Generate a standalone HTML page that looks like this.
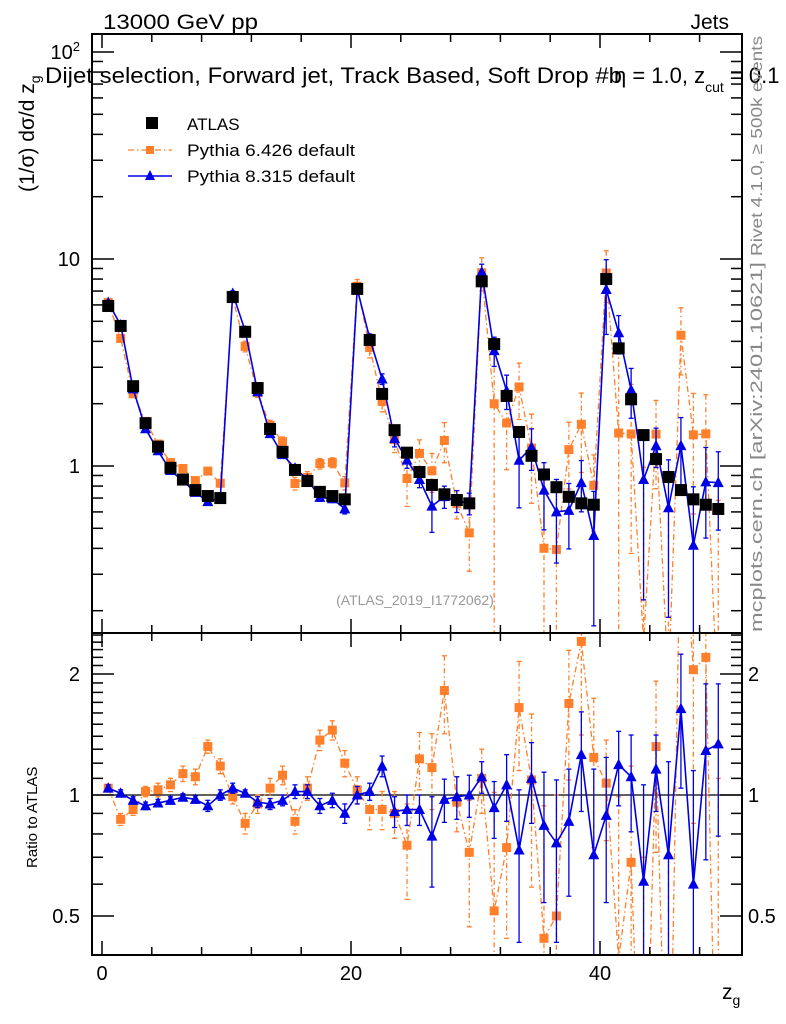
<!DOCTYPE html>
<html><head><meta charset="utf-8">
<style>
html,body{margin:0;padding:0;background:#fff;overflow:hidden;}
svg{display:block;font-family:"Liberation Sans",sans-serif;}
</style></head>
<body>
<svg id="chart" width="786" height="1024" viewBox="0 0 786 1024" xmlns="http://www.w3.org/2000/svg">
<defs>
<clipPath id="clipMain"><rect x="92" y="34" width="650" height="599"/></clipPath>
<clipPath id="clipRatio"><rect x="92" y="633" width="650" height="322"/></clipPath>
</defs>
<g id="marks-main" clip-path="url(#clipMain)"></g>
<g id="marks-ratio" clip-path="url(#clipRatio)"></g>
<g id="axes"></g>
<rect x="92" y="34" width="650" height="599" fill="none" stroke="#000" stroke-width="2"/>
<rect x="92" y="633" width="650" height="322" fill="none" stroke="#000" stroke-width="2"/>
<text x="103" y="29" font-size="21" textLength="155" lengthAdjust="spacingAndGlyphs">13000 GeV pp</text>
<text x="729" y="29" font-size="21" text-anchor="end">Jets</text>
<text x="45" y="83" font-size="22" textLength="577" lengthAdjust="spacingAndGlyphs">Dijet selection, Forward jet, Track Based, Soft Drop #b</text>
<text x="614" y="83" font-size="22">η = 1.0, z<tspan font-size="14" dy="9">cut</tspan><tspan dy="-9"> = 0.1</tspan></text>
<text transform="translate(34,192) rotate(-90)" font-size="21">(1/σ) dσ/d z<tspan font-size="14" dy="6">g</tspan></text>
<text transform="translate(37,868) rotate(-90)" font-size="15">Ratio to ATLAS</text>
<text x="722" y="999" font-size="21">z<tspan font-size="14" dy="6">g</tspan></text>
<text transform="translate(762,256) rotate(-90)" font-size="16" fill="#888" textLength="220" lengthAdjust="spacingAndGlyphs">Rivet 4.1.0, ≥ 500k events</text>
<text transform="translate(762,632) rotate(-90)" font-size="17" fill="#888" textLength="370" lengthAdjust="spacingAndGlyphs">mcplots.cern.ch [arXiv:2401.10621]</text>
<text x="415" y="605" font-size="14" fill="#999" text-anchor="middle">(ATLAS_2019_I1772062)</text>
<g>
  <rect x="146" y="117" width="12" height="12" fill="#000"/>
  <text x="187" y="130" font-size="17">ATLAS</text>
  <line x1="128" y1="150" x2="172" y2="150" stroke="#ff7f2a" stroke-width="1.3" stroke-dasharray="6,3,1.5,3"/>
  <rect x="146" y="146" width="8" height="8" fill="#ff7f2a"/>
  <text x="187" y="156" font-size="17" textLength="168" lengthAdjust="spacingAndGlyphs">Pythia 6.426 default</text>
  <line x1="128" y1="176" x2="172" y2="176" stroke="#0000e6" stroke-width="1.5"/>
  <polygon points="150,170 145,180 155,180" fill="#0000e6"/>
  <text x="187" y="182" font-size="17" textLength="168" lengthAdjust="spacingAndGlyphs">Pythia 8.315 default</text>
</g>
</svg>
<script>
const bins = [0.5,1.5,2.5,3.5,4.5,5.5,6.5,7.5,8.5,9.5,10.5,11.5,12.5,13.5,14.5,15.5,16.5,17.5,18.5,19.5,20.5,21.5,22.5,23.5,24.5,25.5,26.5,27.5,28.5,29.5,30.5,31.5,32.5,33.5,34.5,35.5,36.5,37.5,38.5,39.5,40.5,41.5,42.5,43.5,44.5,45.5,46.5,47.5,48.5,49.5];
const atlas = [5.93,4.75,2.43,1.61,1.24,0.98,0.86,0.765,0.716,0.70,6.55,4.45,2.38,1.51,1.17,0.957,0.846,0.75,0.716,0.69,7.17,4.06,2.23,1.49,1.16,0.935,0.81,0.73,0.685,0.66,7.8,3.88,2.18,1.46,1.12,0.91,0.79,0.71,0.66,0.65,8.0,3.7,2.1,1.41,1.08,0.885,0.765,0.69,0.65,0.62];
const ratioP6 = [1.04,0.87,0.92,1.02,1.03,1.06,1.13,1.11,1.32,1.18,0.99,0.85,0.95,1.04,1.12,0.86,1.04,1.37,1.45,1.20,1.03,0.92,0.92,0.90,0.75,1.23,1.17,1.82,0.96,0.72,1.10,0.515,0.74,1.65,1.09,0.44,0.50,1.69,2.41,1.24,1.07,0.39,0.68,0.10,1.32,0.10,5.6,2.05,2.2,0.10];
const errP6 = [0.02,0.03,0.03,0.03,0.04,0.04,0.05,0.05,0.05,0.05,0.04,0.05,0.05,0.06,0.06,0.06,0.07,0.08,0.08,0.09,0.08,0.1,0.1,0.12,0.2,0.2,0.25,0.4,0.15,0.25,0.2,0.5,0.3,0.5,0.5,0.5,0.5,0.6,1.0,0.5,0.3,0.6,0.5,0.6,0.6,0.6,2,1.2,1.2,1];
const ratioP8 = [1.04,1.01,0.97,0.94,0.955,0.97,0.987,0.975,0.94,1.0,1.04,1.01,0.96,0.95,0.97,1.02,1.02,0.94,0.97,0.90,1.0,1.02,1.18,0.91,0.92,0.92,0.79,0.975,0.99,1.0,1.11,0.93,1.06,0.73,1.10,0.84,0.76,0.86,1.26,0.71,0.89,1.19,1.11,0.61,1.16,0.71,1.64,0.60,1.29,1.34];
const errP8 = [0.02,0.02,0.02,0.02,0.02,0.02,0.02,0.02,0.03,0.03,0.03,0.02,0.03,0.03,0.03,0.04,0.04,0.04,0.04,0.05,0.05,0.05,0.07,0.08,0.08,0.08,0.2,0.12,0.12,0.12,0.1,0.15,0.2,0.3,0.25,0.3,0.33,0.3,0.35,0.45,0.35,0.25,0.3,0.45,0.25,0.5,0.6,0.55,0.6,0.55];
const xTickLabels = [0,20,40];
const mainTickLabels = [1,10,100];
const ratioTickLabels = [0.5,1,2];

const NS = "http://www.w3.org/2000/svg";
const X = v => 102 + v * 12.45;
const Ym = v => 466 - 207 * Math.log10(Math.max(v, 1e-4));
const Yr = r => 795 - 121 * Math.log2(Math.max(r, 1e-4));
const OR = "#ff7f2a", BL = "#0000e6";
const gMain = document.getElementById('marks-main');
const gRatio = document.getElementById('marks-ratio');
const gAxes = document.getElementById('axes');
function mk(tag, attrs, parent) {
  const e = document.createElementNS(NS, tag);
  for (const k in attrs) e.setAttribute(k, attrs[k]);
  parent.appendChild(e);
  return e;
}
function errbar(parent, x, y1, y2, col, dash, name) {
  const g = mk('g', {}, parent);
  
  
  const s = {stroke: col, 'stroke-width': 1.3};
  const l = mk('line', Object.assign({x1: x, x2: x, y1: y1, y2: y2}, s), g);
  if (dash) l.setAttribute('stroke-dasharray', '5,3,1.5,3');
  mk('line', Object.assign({x1: x - 2.5, x2: x + 2.5, y1: y1, y2: y1}, s), g);
  mk('line', Object.assign({x1: x - 2.5, x2: x + 2.5, y1: y2, y2: y2}, s), g);
}
function series(parent, Y, vals, errs, col, dash, kind, name) {
  const pts = bins.map((b, i) => X(b) + ',' + Y(vals[i])).join(' ');
  const pl = mk('polyline', {points: pts, fill: 'none', stroke: col, 'stroke-width': dash ? 1.3 : 1.6}, parent);
  if (dash) pl.setAttribute('stroke-dasharray', '6,3,1.5,3');
  
  
  bins.forEach((b, i) => {
    const x = X(b), v = vals[i], e = errs[i];
    errbar(parent, x, Y(v + e), Y(Math.max(v - e, 1e-4)), col, dash, name + '-error');
    let m;
    if (kind === 'sq') {
      m = mk('rect', {x: x - 4.5, y: Y(v) - 4.5, width: 9, height: 9, fill: col}, parent);
    } else {
      const y = Y(v);
      m = mk('polygon', {points: `${x},${y - 6} ${x - 5.5},${y + 4.5} ${x + 5.5},${y + 4.5}`, fill: col}, parent);
    }
    
    
  });
}
const p6main = atlas.map((a, i) => a * ratioP6[i]);
const p6mainErr = atlas.map((a, i) => a * errP6[i]);
const p8main = atlas.map((a, i) => a * ratioP8[i]);
const p8mainErr = atlas.map((a, i) => a * errP8[i]);
series(gMain, Ym, p6main, p6mainErr, OR, true, 'sq', 'pythia6');
series(gMain, Ym, p8main, p8mainErr, BL, false, 'tri', 'pythia8');
bins.forEach((b, i) => {
  const r = mk('rect', {x: X(b) - 6, y: Ym(atlas[i]) - 6, width: 12, height: 12, fill: '#000'}, gMain);
  
  
});
const one = mk('line', {x1: 92, x2: 742, y1: Yr(1), y2: Yr(1), stroke: '#000', 'stroke-width': 1.3}, gRatio);


series(gRatio, Yr, ratioP6, errP6, OR, true, 'sq', 'ratio-pythia6');
series(gRatio, Yr, ratioP8, errP8, BL, false, 'tri', 'ratio-pythia8');

function tick(x1, y1, x2, y2) {
  const t = mk('line', {x1: x1, y1: y1, x2: x2, y2: y2, stroke: '#000', 'stroke-width': 1.5}, gAxes);
  
  
}
function label(x, y, txt, anchor, size, name) {
  const t = mk('text', {x: x, y: y, 'text-anchor': anchor, 'font-size': size}, gAxes);
  t.textContent = txt;
  
  
  return t;
}
for (let v = 0; v <= 51; v += 4) {
  const x = X(v);
  if (x < 93 || x > 741) continue;
  const L = (v % 20 === 0) ? 14 : 8;
  tick(x, 34, x, 34 + L); tick(x, 633, x, 633 - L);
  tick(x, 633, x, 633 + L); tick(x, 955, x, 955 - L);
}
xTickLabels.forEach(v => label(X(v), 980, String(v), 'middle', 20, 'x-tick-label'));
for (let d = -1; d <= 2; d++) {
  for (let k = 1; k <= 9; k++) {
    const v = k * Math.pow(10, d);
    const y = Ym(v);
    if (y < 35 || y > 632) continue;
    const L = k === 1 ? 22 : 11;
    tick(92, y, 92 + L, y); tick(742, y, 742 - L, y);
  }
}
mainTickLabels.forEach(v => {
  if (v === 100) {
    const t = label(80, Ym(v) + 7, '10', 'end', 20, 'y-tick-label');
    const s = mk('tspan', {'font-size': 13, dy: -8}, t); s.textContent = '2';
  } else label(80, Ym(v) + 7, String(v), 'end', 20, 'y-tick-label');
});
for (let r = 0.4; r <= 2.55; r += 0.1) {
  const y = Yr(r);
  if (y < 634 || y > 954) continue;
  const major = Math.abs(r - 0.5) < 1e-6 || Math.abs(r - 1) < 1e-6 || Math.abs(r - 2) < 1e-6;
  const L = major ? 22 : 11;
  tick(92, y, 92 + L, y); tick(742, y, 742 - L, y);
}
ratioTickLabels.forEach(r => {
  label(80, Yr(r) + 7, String(r), 'end', 20, 'ratio-tick-label');
  label(748, Yr(r) + 7, String(r), 'start', 20, 'ratio-tick-label-right');
});
</script>
</body></html>
